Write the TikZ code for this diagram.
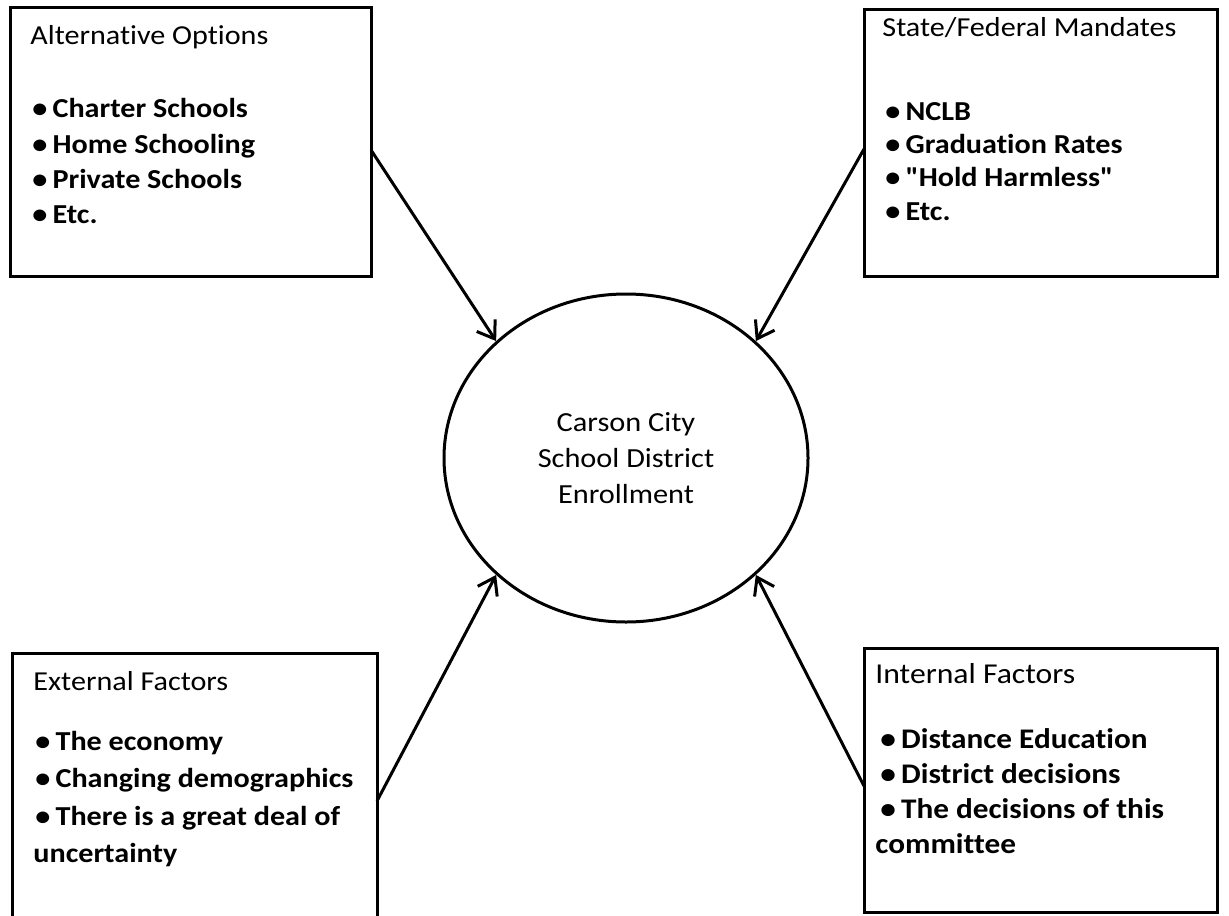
\documentclass[tikz,border=0pt]{standalone}
\usepackage{fontspec}
\setmainfont{Carlito}[FakeStretch=1.1,Ligatures={TeXOff,NoCommon}]
\usetikzlibrary{shapes.geometric,arrows.meta}
\newcommand\bu{\textbullet\kern2.6pt}
\begin{document}
\begin{tikzpicture}[x=0.5pt,y=-0.5pt,
  box/.style={draw=black,line width=1.5pt,rectangle,inner sep=0pt,outer sep=0pt,anchor=north west},
  head/.style={anchor=base west,inner sep=0pt,font=\fontsize{13.7}{17}\selectfont},
  item/.style={anchor=base west,inner sep=0pt,font=\fontsize{13.7}{17}\selectfont\bfseries},
  headb/.style={head,font=\fontsize{14.4}{17}\selectfont},
  itemb/.style={item,font=\fontsize{14.2}{17}\selectfont\bfseries},
  link/.style={line width=1.5pt,-{Straight Barb[length=8pt,width=11pt,line width=1.5pt]}}]
\useasboundingbox[fill=white] (0,0) rectangle (1229,915);
% boxes
\node[box,minimum width=180.5pt,minimum height=134pt] (tl) at (10,8) {};
\node[box,minimum width=176.5pt,minimum height=133pt] (tr) at (864,10) {};
\node[box,minimum width=182.5pt,minimum height=140pt] (bl) at (12,653) {};
\node[box,minimum width=176.5pt,minimum height=132pt] (br) at (864,648) {};
% centre
\node[draw=black,line width=1.5pt,ellipse,minimum width=182pt,minimum height=164pt,inner sep=0pt,align=center,
      font=\fontsize{13.8}{18}\selectfont] (c) at (626,458) {Carson City\\School District\\Enrollment};
% top left texts
\node[head] (tlh) at (30,45) {Alternative Options};
\node[item] (tl1) at (32,118) {\bu Charter Schools};
\node[item] (tl2) at (32,153) {\bu Home Schooling};
\node[item] (tl3) at (32,188) {\bu Private Schools};
\node[item] (tl4) at (32,223) {\bu Etc.};
% top right texts
\node[head] (trh) at (882,37) {State/Federal Mandates};
\node[item] (tr1) at (885,120) {\bu NCLB};
\node[item] (tr2) at (885,153) {\bu Graduation Rates};
\node[item] (tr3) at (885,186) {\bu "Hold Harmless"};
\node[item] (tr4) at (885,220) {\bu Etc.};
% bottom left texts
\node[head] (blh) at (33,690) {External Factors};
\node[item] (bl1) at (35,750) {\bu The economy};
\node[item] (bl2) at (35,787) {\bu Changing demographics};
\node[item] (bl3) at (35,825) {\bu There is a great deal of};
\node[item] (bl4) at (33,862) {uncertainty};
% bottom right texts
\node[headb] (brh) at (875,683) {Internal Factors};
\node[itemb] (br1) at (880,748) {\bu Distance Education};
\node[itemb] (br2) at (880,783) {\bu District decisions};
\node[itemb] (br3) at (880,818) {\bu The decisions of this};
\node[itemb] (br4) at (875,853) {committee};
% connectors
\draw[link] ([yshift=-4pt]tl.east) -- (c.138);
\draw[link] ([yshift=-3pt]tr.west) -- (c.42);
\draw[link] ([yshift=-4pt]bl.east) -- (c.222);
\draw[link] ([yshift=-3pt]br.west) -- (c.318);
\end{tikzpicture}
\end{document}
